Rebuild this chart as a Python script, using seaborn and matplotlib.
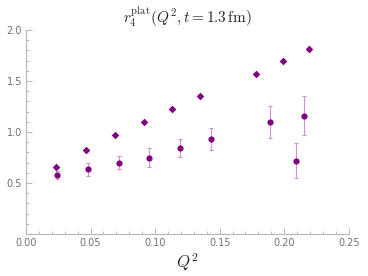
import numpy as np
import pandas as pd
import seaborn as sns
import matplotlib.pyplot as plt
from matplotlib.ticker import MultipleLocator

# upper series (small errors)
q2_a = [0.0232, 0.0462, 0.0689, 0.0911, 0.1133, 0.1347, 0.1778, 0.1987, 0.2193]
r_a = [0.657, 0.82, 0.97, 1.10, 1.23, 1.35, 1.57, 1.70, 1.81]
err_a = [0.012, 0.012, 0.012, 0.012, 0.012, 0.012, 0.012, 0.012, 0.012]

# lower series (plateau fit with error bars)
q2_b = [0.0237, 0.0477, 0.072, 0.095, 0.119, 0.143, 0.189, 0.209, 0.215]
r_b = [0.578, 0.634, 0.70, 0.75, 0.846, 0.93, 1.10, 0.72, 1.16]
err_b = [0.04, 0.06, 0.065, 0.09, 0.09, 0.105, 0.155, 0.17, 0.19]

purple = "#800080"
light = "#d58fd5"

sns.set_style("white")
plt.rcParams["mathtext.fontset"] = "cm"

fig = plt.figure(figsize=(3.68, 2.76), dpi=100)
ax = fig.add_axes([0.0707, 0.152, 0.877, 0.739])

ax.errorbar(q2_a, r_a, yerr=err_a, fmt="none", ecolor=light, elinewidth=0.8,
            capsize=1.5, capthick=0.8)
ax.errorbar(q2_b, r_b, yerr=err_b, fmt="none", ecolor=light, elinewidth=0.8,
            capsize=1.5, capthick=0.8)

df_a = pd.DataFrame({"q2": q2_a, "r": r_a})
df_b = pd.DataFrame({"q2": q2_b, "r": r_b})
sns.scatterplot(data=df_a, x="q2", y="r", ax=ax, color=purple, s=15,
                marker="D", edgecolor=purple, linewidth=0, zorder=3)
sns.scatterplot(data=df_b, x="q2", y="r", ax=ax, color=purple, s=20,
                marker="o", edgecolor=purple, linewidth=0, zorder=3)

ax.set_xlim(0, 0.25)
ax.set_ylim(0, 2.0)
ax.xaxis.set_major_locator(MultipleLocator(0.05))
ax.xaxis.set_minor_locator(MultipleLocator(0.01))
ax.yaxis.set_major_locator(MultipleLocator(0.5))
ax.yaxis.set_minor_locator(MultipleLocator(0.1))
ax.set_xticks([0.0, 0.05, 0.10, 0.15, 0.20, 0.25])
ax.set_xticklabels(["0.00", "0.05", "0.10", "0.15", "0.20", "0.25"])
ax.set_yticks([0.5, 1.0, 1.5, 2.0])
ax.set_yticklabels(["0.5", "1.0", "1.5", "2.0"])

for s in ["top", "right"]:
    ax.spines[s].set_visible(False)
for s in ["left", "bottom"]:
    ax.spines[s].set_color("#b5b5b5")
    ax.spines[s].set_linewidth(0.8)

ax.tick_params(which="both", bottom=True, left=True)
ax.tick_params(which="major", direction="in", length=4, width=0.7,
               color="#b5b5b5", labelsize=7, labelcolor="#707070", pad=3)
ax.tick_params(which="minor", direction="in", length=2, width=0.6,
               color="#b5b5b5")

ax.set_xlabel(r"$Q^2$", fontsize=12, labelpad=2)
ax.set_ylabel("")
ax.set_title(r"$r_4^{\rm plat}(Q^2, t = 1.3\,{\rm fm})$", fontsize=11, pad=5)

fig.savefig("out.png", dpi=100)
